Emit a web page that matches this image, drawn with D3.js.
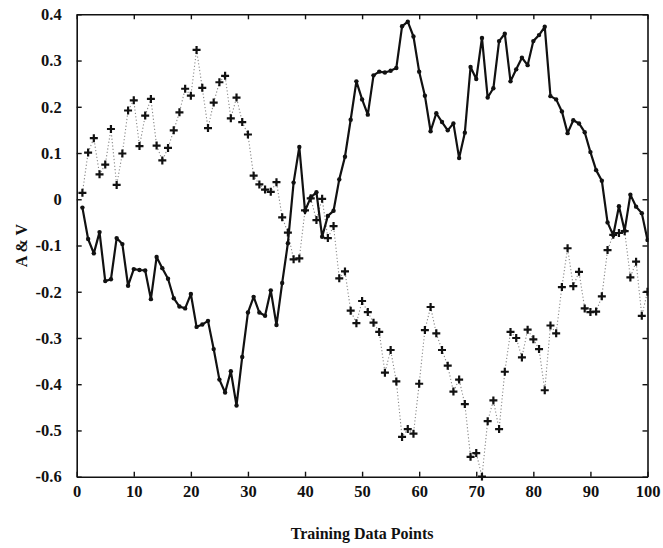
<!DOCTYPE html>
<html>
<head>
<meta charset="utf-8">
<script src="https://cdn.jsdelivr.net/npm/d3@7"></script>
<style>
  html, body { margin: 0; padding: 0; background: #fff; }
  svg { display: block; }
  text { font-family: "Liberation Serif", "DejaVu Serif", serif; font-weight: bold; fill: #111; }
</style>
</head>
<body>
<svg id="chart" width="663" height="548"></svg>
<script>
// ---- data ----
const seriesA = [
  -0.018,-0.086,-0.117,-0.071,-0.177,-0.173,-0.084,-0.097,-0.187,-0.151,
  -0.153,-0.154,-0.216,-0.125,-0.149,-0.172,-0.214,-0.232,-0.236,-0.205,
  -0.276,-0.271,-0.263,-0.324,-0.390,-0.418,-0.372,-0.446,-0.341,-0.245,
  -0.211,-0.245,-0.252,-0.197,-0.272,-0.181,-0.095,0.036,0.113,-0.025,
  0.004,0.015,-0.081,-0.036,-0.025,0.043,0.092,0.172,0.255,0.216,
  0.183,0.268,0.276,0.274,0.278,0.284,0.374,0.384,0.352,0.276,
  0.224,0.147,0.186,0.167,0.149,0.164,0.089,0.144,0.286,0.260,
  0.349,0.220,0.240,0.342,0.358,0.255,0.281,0.306,0.290,0.342,
  0.355,0.373,0.223,0.216,0.190,0.143,0.171,0.164,0.145,0.102,
  0.063,0.040,-0.050,-0.078,-0.015,-0.068,0.010,-0.016,-0.030,-0.088
];
const seriesV = [
  0.014,0.101,0.132,0.054,0.075,0.152,0.031,0.099,0.192,0.214,
  0.115,0.181,0.217,0.116,0.084,0.111,0.149,0.188,0.239,0.224,
  0.323,0.241,0.154,0.209,0.253,0.267,0.175,0.220,0.167,0.140,
  0.051,0.032,0.021,0.016,0.037,-0.039,-0.072,-0.130,-0.128,-0.024,
  0.002,-0.045,0.001,-0.084,-0.058,-0.171,-0.156,-0.241,-0.268,-0.220,
  -0.244,-0.267,-0.287,-0.375,-0.326,-0.394,-0.514,-0.497,-0.507,-0.399,
  -0.283,-0.233,-0.290,-0.326,-0.360,-0.416,-0.390,-0.443,-0.557,-0.549,
  -0.600,-0.480,-0.435,-0.497,-0.373,-0.287,-0.300,-0.342,-0.282,-0.303,
  -0.324,-0.413,-0.273,-0.290,-0.190,-0.106,-0.188,-0.157,-0.236,-0.244,
  -0.243,-0.210,-0.110,-0.077,-0.073,-0.069,-0.169,-0.135,-0.252,-0.200
];
const xTicks = [0,10,20,30,40,50,60,70,80,90,100];
const yTicks = [-0.6,-0.5,-0.4,-0.3,-0.2,-0.1,0,0.1,0.2,0.3,0.4];
const xTickLabels = ["0","10","20","30","40","50","60","70","80","90","100"];
const yTickLabels = ["-0.6","-0.5","-0.4","-0.3","-0.2","-0.1","0","0.1","0.2","0.3","0.4"];
const xTitle = "Training Data Points";
const yTitle = "A & V";

// ---- layout ----
const L = 76.7, R = 647.5, T = 14.3, B = 476.7;
const svg = d3.select("#chart");
const x = d3.scaleLinear().domain([0, 100]).range([L, R]);
const y = d3.scaleLinear().domain([-0.6, 0.4]).range([B, T]);

const ptsA = seriesA.map((v, i) => [i + 1, v]);
const ptsV = seriesV.map((v, i) => [i + 1, v]);

svg.append("defs").append("clipPath").attr("id", "clip")
  .append("rect").attr("x", L - 1).attr("y", T - 1).attr("width", R - L + 2).attr("height", B - T + 5);

const line = d3.line().x(d => x(d[0])).y(d => y(d[1]));
const plot = svg.append("g").attr("clip-path", "url(#clip)");

// V: dotted gray line with + markers
plot.append("path").datum(ptsV).attr("d", line)
  .attr("fill", "none").attr("stroke", "#888").attr("stroke-width", 1.1)
  .attr("stroke-dasharray", "1.2,2.2");
const plusSize = 4;
plot.append("g").selectAll("path").data(ptsV).join("path")
  .attr("d", d => {
    const cx = x(d[0]), cy = y(d[1]);
    return `M${cx - plusSize},${cy}H${cx + plusSize}M${cx},${cy - plusSize}V${cy + plusSize}`;
  })
  .attr("stroke", "#111").attr("stroke-width", 2.2).attr("fill", "none");

// A: solid black line with dot markers
plot.append("path").datum(ptsA).attr("d", line)
  .attr("fill", "none").attr("stroke", "#111").attr("stroke-width", 2.2)
  .attr("stroke-linejoin", "round");
plot.append("g").selectAll("circle").data(ptsA).join("circle")
  .attr("cx", d => x(d[0])).attr("cy", d => y(d[1])).attr("r", 2.2).attr("fill", "#111");

// ---- axes (MATLAB-style box, inward ticks) ----
const tickLen = 5;
const axB = svg.append("g").attr("transform", `translate(0,${B})`)
  .call(d3.axisBottom(x).tickValues(xTicks).tickSizeInner(-tickLen).tickSizeOuter(0)
    .tickPadding(9).tickFormat((d, i) => xTickLabels[i]));
const axT = svg.append("g").attr("transform", `translate(0,${T})`)
  .call(d3.axisTop(x).tickValues(xTicks).tickSizeInner(-tickLen).tickSizeOuter(0).tickFormat(""));
const axL = svg.append("g").attr("transform", `translate(${L},0)`)
  .call(d3.axisLeft(y).tickValues(yTicks).tickSizeInner(-tickLen).tickSizeOuter(0)
    .tickPadding(15).tickFormat((d, i) => yTickLabels[i]));
const axR = svg.append("g").attr("transform", `translate(${R},0)`)
  .call(d3.axisRight(y).tickValues(yTicks).tickSizeInner(-tickLen).tickSizeOuter(0).tickFormat(""));

[axB, axT, axL, axR].forEach(g => {
  g.select(".domain").attr("stroke", "#111").attr("stroke-width", 1.6);
  g.selectAll(".tick line").attr("stroke", "#111").attr("stroke-width", 1.4);
  g.selectAll("text").attr("font-family", "'Liberation Serif', serif")
    .attr("font-weight", "bold").attr("font-size", 16.5).attr("fill", "#111");
});

// titles
svg.append("text").attr("x", (L + R) / 2).attr("y", 539)
  .attr("text-anchor", "middle").attr("font-size", 16).text(xTitle);
svg.append("text").attr("transform", `translate(27,${(T + B) / 2}) rotate(-90)`)
  .attr("text-anchor", "middle").attr("font-size", 16).text(yTitle);
</script>
</body>
</html>
